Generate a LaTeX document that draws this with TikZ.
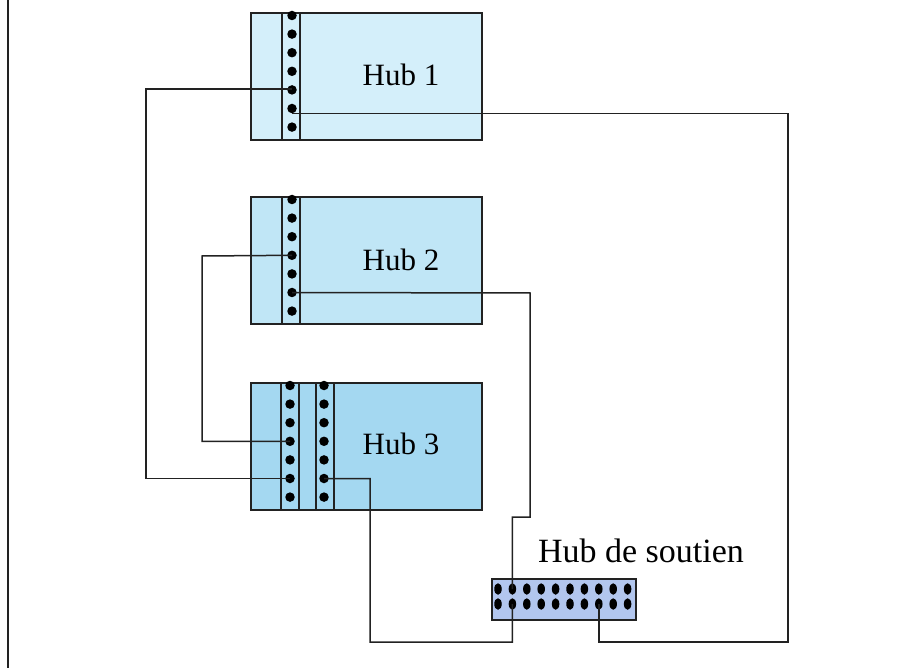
\documentclass[tikz,border=0pt]{standalone}
\usepackage{fontspec}
\setmainfont{Liberation Serif}
\usetikzlibrary{calc,shapes.geometric}
\definecolor{hubA}{HTML}{D4EFFA}
\definecolor{hubB}{HTML}{C0E6F6}
\definecolor{hubC}{HTML}{A4D8F1}
\definecolor{hubS}{HTML}{B2C6EE}
\definecolor{ink}{HTML}{222222}
\tikzset{
  hubbox/.style={draw=ink, line width=2pt, inner sep=0pt, anchor=north west, minimum width=231pt, minimum height=127pt},
  stripbox/.style={draw=ink, line width=1.7pt, inner sep=0pt, anchor=north west, minimum width=18pt, minimum height=127pt},
  dotn/.style={circle, fill=black, inner sep=0pt, minimum size=9.5pt},
  edot/.style={ellipse, fill=black, inner sep=0pt, minimum width=7.5pt, minimum height=11.5pt},
  wire/.style={draw=ink, line width=1.5pt},
  lbl/.style={font=\fontsize{31}{36}\selectfont, inner sep=0pt}
}
\begin{document}
\begin{tikzpicture}[x=1pt, y=-1pt]
\useasboundingbox (0,0) rectangle (918,668);
\fill[white] (0,0) rectangle (918,668);
% left frame line
\coordinate (ft) at (8,0);
\coordinate (fb) at (8,668);
\draw[ink, line width=1.6pt] (ft) -- (fb);

% Hub 1
\node[hubbox, fill=hubA] (hub1) at (250,12) {};
\node[stripbox, fill=hubA] (s1) at (281,12) {};
\foreach \k in {1,...,7} \node[dotn] (h1d\k) at (292,{15.5+(\k-1)*18.6}) {};
\node[lbl] (l1) at (401,75) {Hub 1};

% Hub 2
\node[hubbox, fill=hubB] (hub2) at (250,196) {};
\node[stripbox, fill=hubB] (s2) at (281,196) {};
\foreach \k in {1,...,7} \node[dotn] (h2d\k) at (292,{199.5+(\k-1)*18.6}) {};
\node[lbl] (l2) at (401,260) {Hub 2};

% Hub 3
\node[hubbox, fill=hubC] (hub3) at (250,382) {};
\node[stripbox, fill=hubC] (s3a) at (280,382) {};
\node[stripbox, fill=hubC] (s3b) at (315,382) {};
\foreach \k in {1,...,7} {
  \node[dotn] (h3a\k) at (290,{385.5+(\k-1)*18.6}) {};
  \node[dotn] (h3b\k) at (324,{385.5+(\k-1)*18.6}) {};
}
\node[lbl] (l3) at (401,444) {Hub 3};

% Hub de soutien
\node[draw=ink, line width=1.8pt, fill=hubS, inner sep=0pt, anchor=north west, minimum width=144pt, minimum height=41pt] (hs) at (491,578) {};
\foreach \k in {1,...,10} {
  \node[edot] (st\k) at ({498+(\k-1)*14.4},589) {};
  \node[edot] (sb\k) at ({498+(\k-1)*14.4},604) {};
}
\node[lbl, font=\fontsize{34}{40}\selectfont] (ls) at (641,551) {Hub de soutien};

% wires
\coordinate (wa) at (146,89);
\draw[wire] (h1d5.center |- wa) -- (wa) |- (h3a6.center);

\coordinate (wb2) at (788,642);
\draw[wire] (h1d6.south) -- (h1d6.south -| wb2) -- (wb2) -| (sb8.center);

\coordinate (wc) at (202,256);
\draw[wire] (h2d4.center) -- (wc) |- (h3a4.center);

\coordinate (wd1) at (530,293);
\coordinate (wd2) at (530,517);
\coordinate (wd3) at (512.4,517);
\draw[wire] (h2d6.center) -- (wd1) -- (wd2) -- (wd3) -- (st2.center);

\coordinate (we1) at (370,478.5);
\coordinate (we2) at (370,642);
\draw[wire] (h3b6.center) -- (we1) -- (we2) -| (sb2.center);
\end{tikzpicture}
\end{document}
